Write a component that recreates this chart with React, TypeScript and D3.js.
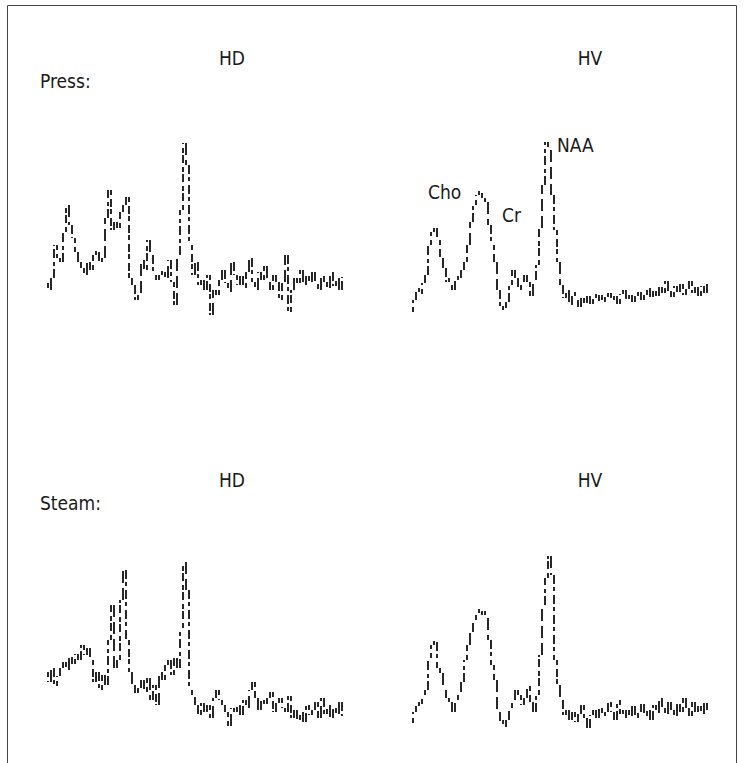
import React, { useEffect, useRef } from 'react';
import * as d3 from 'd3';

// amplitude readings (arbitrary units, 0 = panel floor), 100 samples per spectrum
const pressHD = [37, 30, 42, 75, 62, 58, 88, 115, 95, 82, 68, 58, 52, 45, 58, 50, 65, 68, 58, 62,
  102, 130, 90, 98, 92, 108, 115, 123, 42, 35, 20, 27, 60, 50, 80, 65, 45, 40, 45, 48,
  42, 60, 38, 15, 65, 110, 177, 155, 75, 45, 58, 35, 40, 30, 45, 5, 30, 25, 40, 50,
  37, 28, 58, 45, 35, 44, 32, 48, 62, 38, 30, 48, 40, 54, 38, 30, 45, 38, 20, 38,
  65, 8, 30, 42, 37, 50, 35, 44, 38, 48, 36, 30, 44, 38, 32, 48, 34, 42, 30, 43];

const pressHV = [8, 20, 28, 26, 37, 45, 75, 88, 92, 80, 62, 52, 38, 35, 30, 40, 42, 50, 58, 75,
  98, 115, 125, 127, 122, 118, 95, 75, 58, 30, 10, 12, 18, 35, 50, 42, 30, 38, 45, 38,
  24, 40, 55, 92, 135, 178, 170, 125, 90, 58, 35, 22, 30, 15, 24, 20, 13, 22, 17, 24,
  16, 22, 19, 25, 18, 23, 27, 20, 24, 16, 26, 30, 21, 25, 18, 24, 28, 20, 25, 32,
  23, 29, 24, 33, 27, 39, 29, 23, 34, 28, 36, 25, 31, 39, 27, 33, 24, 34, 27, 37];

const steamHD = [68, 58, 72, 54, 64, 72, 78, 70, 83, 76, 86, 80, 95, 85, 92, 80, 58, 68, 50, 65,
  55, 100, 135, 72, 80, 140, 170, 100, 68, 55, 47, 52, 60, 48, 62, 40, 55, 35, 68, 60,
  75, 80, 65, 82, 72, 112, 178, 150, 50, 43, 35, 25, 37, 28, 35, 22, 42, 50, 40, 35,
  28, 14, 32, 28, 35, 25, 40, 32, 50, 58, 42, 30, 40, 36, 42, 48, 28, 37, 42, 32,
  28, 44, 22, 30, 20, 28, 18, 35, 25, 30, 38, 22, 42, 26, 35, 22, 32, 26, 38, 24];

const steamHV = [17, 28, 34, 36, 45, 50, 82, 95, 98, 72, 67, 50, 42, 38, 28, 40, 48, 58, 80, 95,
  108, 120, 127, 129, 125, 122, 100, 75, 60, 28, 16, 13, 20, 32, 40, 50, 45, 35, 42, 54,
  38, 28, 45, 85, 135, 162, 184, 165, 80, 55, 40, 25, 30, 20, 28, 18, 26, 35, 22, 12,
  25, 30, 22, 32, 24, 28, 38, 28, 20, 40, 26, 22, 30, 24, 34, 22, 28, 36, 24, 30,
  20, 35, 27, 42, 32, 26, 38, 30, 24, 36, 28, 42, 32, 24, 38, 28, 34, 26, 37, 30];

const columnTitles = ['HD', 'HV'];
const rowTitles = ['Press:', 'Steam:'];
const peakNames = ['Cho', 'Cr', 'NAA'];

const FONT = '"DejaVu Sans Condensed", "Liberation Sans Narrow", Roboto, sans-serif';

const App = () => {
  const svgRef = useRef(null);

  useEffect(() => {
    const svg = d3.select(svgRef.current);
    svg.selectAll('*').remove();

    // frame (open at the bottom)
    svg.append('path')
      .attr('d', 'M7.5,763 V5.5 H736.5 V763')
      .attr('fill', 'none')
      .attr('stroke', '#444')
      .attr('stroke-width', 1);

    const panels = [
      { data: pressHD, x0: 45, floor: 320 },
      { data: pressHV, x0: 410, floor: 320 },
      { data: steamHD, x0: 45, floor: 740 },
      { data: steamHV, x0: 410, floor: 740 },
    ];

    panels.forEach(p => {
      const x = d3.scaleLinear().domain([0, p.data.length - 1]).range([p.x0, p.x0 + 297]);
      const y = d3.scaleLinear().domain([0, 180]).range([p.floor, p.floor - 180]);
      const segs = p.data.slice(1).map((v, i) => ({ i: i + 1, a: p.data[i], b: v }));

      svg.append('g')
        .selectAll('line')
        .data(segs)
        .join('line')
        .attr('x1', d => x(d.i))
        .attr('x2', d => x(d.i))
        .attr('y1', d => y(d.a))
        .attr('y2', d => Math.abs(y(d.b) - y(d.a)) < 4 ? y(d.a) - 4 : y(d.b))
        .attr('stroke', '#111')
        .attr('stroke-width', 1.8)
        .attr('stroke-dasharray', d => (d.i % 3 === 0 ? '9 3 4 4' : d.i % 3 === 1 ? '5 4 8 2' : '12 5'));
    });

    const txt = (s, xx, yy, anchor = 'start') =>
      svg.append('text')
        .attr('x', xx)
        .attr('y', yy)
        .attr('text-anchor', anchor)
        .style('font-family', FONT)
        .style('font-size', '19px')
        .style('fill', '#1a1a1a')
        .text(s);

    [65, 487].forEach((yy, r) => {
      txt(columnTitles[0], 232, yy, 'middle');
      txt(columnTitles[1], 590, yy, 'middle');
      txt(rowTitles[r], 40, yy + 23);
    });

    txt(peakNames[0], 428, 199);
    txt(peakNames[1], 502, 222);
    txt(peakNames[2], 557, 152);
  }, []);

  return (
    <svg ref={svgRef} width={745} height={763}
      style={{ position: 'absolute', left: 0, top: 0, background: '#fff' }} />
  );
};

export default App;
